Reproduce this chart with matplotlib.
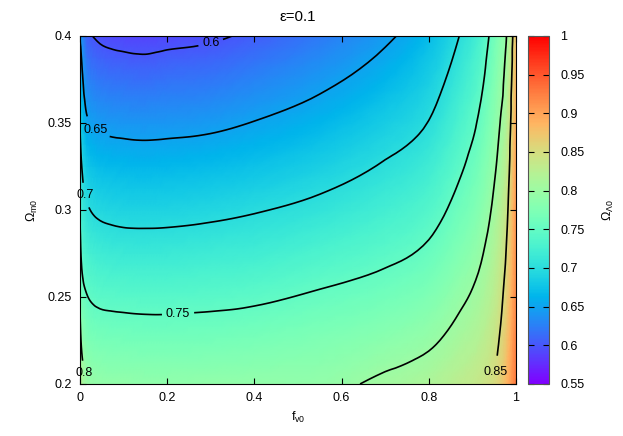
import numpy as np
import matplotlib
matplotlib.use("Agg")
import matplotlib.pyplot as plt
import matplotlib.tri as mtri

plt.rcParams['font.family'] = ['Liberation Sans', 'DejaVu Sans']
plt.rcParams['font.size'] = 9
plt.rcParams['mathtext.fontset'] = 'custom'
plt.rcParams['mathtext.rm'] = 'Liberation Sans'
plt.rcParams['mathtext.it'] = 'Liberation Sans:italic'

# grid
f_v0 = [0, 0.004, 0.015, 0.04, 0.1, 0.15, 0.2, 0.3, 0.4, 0.55, 0.7, 0.8, 0.87, 0.92, 0.96, 0.98, 1.0]
omega_m0 = [0.2, 0.225, 0.25, 0.275, 0.3, 0.325, 0.35, 0.375, 0.4]

# Omega_Lambda0, one row per Omega_m0 value
ol_020 = [0.850, 0.819, 0.800, 0.793, 0.791, 0.790, 0.790, 0.791, 0.791, 0.792, 0.806, 0.816, 0.829, 0.839, 0.859, 0.888, 0.930]
ol_0225 = [0.825, 0.793, 0.776, 0.769, 0.766, 0.765, 0.765, 0.766, 0.769, 0.775, 0.785, 0.795, 0.811, 0.825, 0.849, 0.877, 0.925]
ol_025 = [0.800, 0.766, 0.752, 0.744, 0.741, 0.740, 0.740, 0.742, 0.745, 0.754, 0.764, 0.775, 0.794, 0.811, 0.838, 0.867, 0.920]
ol_0275 = [0.775, 0.742, 0.728, 0.720, 0.715, 0.7145, 0.715, 0.718, 0.721, 0.731, 0.743, 0.756, 0.777, 0.797, 0.828, 0.856, 0.915]
ol_030 = [0.750, 0.721, 0.705, 0.695, 0.690, 0.6895, 0.690, 0.693, 0.698, 0.708, 0.723, 0.737, 0.761, 0.783, 0.817, 0.846, 0.910]
ol_0325 = [0.725, 0.700, 0.680, 0.670, 0.666, 0.665, 0.666, 0.669, 0.674, 0.686, 0.703, 0.719, 0.745, 0.770, 0.806, 0.835, 0.903]
ol_035 = [0.700, 0.679, 0.655, 0.645, 0.641, 0.640, 0.641, 0.644, 0.651, 0.664, 0.684, 0.701, 0.730, 0.757, 0.796, 0.825, 0.896]
ol_0375 = [0.675, 0.658, 0.632, 0.621, 0.616, 0.6145, 0.617, 0.620, 0.628, 0.643, 0.664, 0.685, 0.715, 0.744, 0.787, 0.815, 0.889]
ol_040 = [0.650, 0.638, 0.609, 0.597, 0.591, 0.5895, 0.592, 0.596, 0.605, 0.622, 0.645, 0.669, 0.700, 0.731, 0.777, 0.804, 0.880]

levels = [0.6, 0.65, 0.7, 0.75, 0.8, 0.85]
cbar_ticks = [0.55, 0.6, 0.65, 0.7, 0.75, 0.8, 0.85, 0.9, 0.95, 1]

Z = np.array([ol_020, ol_0225, ol_025, ol_0275, ol_030, ol_0325, ol_035, ol_0375, ol_040])
X, Y = np.meshgrid(f_v0, omega_m0)
nr, nc = Z.shape

# two triangles per grid cell; triangulate in sqrt(f) so the cells near f=0 are not so thin
tris = []
for i in range(nr - 1):
    for j in range(nc - 1):
        a = i * nc + j
        tris.append([a, a + 1, a + nc + 1])
        tris.append([a, a + nc + 1, a + nc])
tri = mtri.Triangulation(np.sqrt(X.ravel()), Y.ravel() * 5.0, np.array(tris))
interp = mtri.CubicTriInterpolator(tri, Z.ravel(), kind='geom')
tri_r, z_r = mtri.UniformTriRefiner(tri).refine_field(Z.ravel(), triinterpolator=interp, subdiv=3)
tri_d = mtri.Triangulation(tri_r.x ** 2, tri_r.y / 5.0, tri_r.triangles)

fig = plt.figure(figsize=(6.23, 4.36), dpi=100)
ax = fig.add_axes([0.1284, 0.1193, 0.6998, 0.7982])
cax = fig.add_axes([0.8475, 0.1193, 0.0337, 0.7982])

pm = ax.tripcolor(tri_d, z_r, cmap='rainbow', vmin=0.55, vmax=1.0, shading='gouraud')
cs = ax.tricontour(tri_d, z_r, levels=levels, colors='black', linewidths=1.2)

label_pos = [(0.30, 0.396), (0.035, 0.346), (0.004, 0.308), (0.225, 0.240), (0.005, 0.206), (0.955, 0.207)]
labels = ax.clabel(cs, levels, inline=True, fmt='%g', fontsize=9, manual=label_pos, inline_spacing=4)
for t in labels:
    t.set_rotation(0)
    t.set_clip_on(False)
    t.set_zorder(5)

ax.set_xlim(0, 1)
ax.set_ylim(0.2, 0.4)
ax.set_xticks([0, 0.2, 0.4, 0.6, 0.8, 1])
ax.set_xticklabels(['0', '0.2', '0.4', '0.6', '0.8', '1'])
ax.set_yticks([0.2, 0.25, 0.3, 0.35, 0.4])
ax.set_yticklabels(['0.2', '0.25', '0.3', '0.35', '0.4'])
ax.tick_params(direction='in', top=True, right=True, length=4, width=0.8)
ax.tick_params(axis='x', pad=6)
ax.tick_params(axis='y', pad=6)
ax.set_xlabel(r'$\mathrm{f_{v0}}$', labelpad=4)
ax.set_ylabel(r'$\Omega_{\mathrm{m0}}$', labelpad=5)
ax.set_title('ε=0.1', pad=11)

cb = fig.colorbar(pm, cax=cax, ticks=cbar_ticks)
cb.ax.set_yticklabels(['0.55', '0.6', '0.65', '0.7', '0.75', '0.8', '0.85', '0.9', '0.95', '1'])
cax.tick_params(direction='in', left=True, right=True, length=4, width=0.8, pad=8)
cb.outline.set_edgecolor('#555555')
cb.set_label(r'$\Omega_{\Lambda 0}$', labelpad=12)

fig.savefig('out.png', dpi=100)
